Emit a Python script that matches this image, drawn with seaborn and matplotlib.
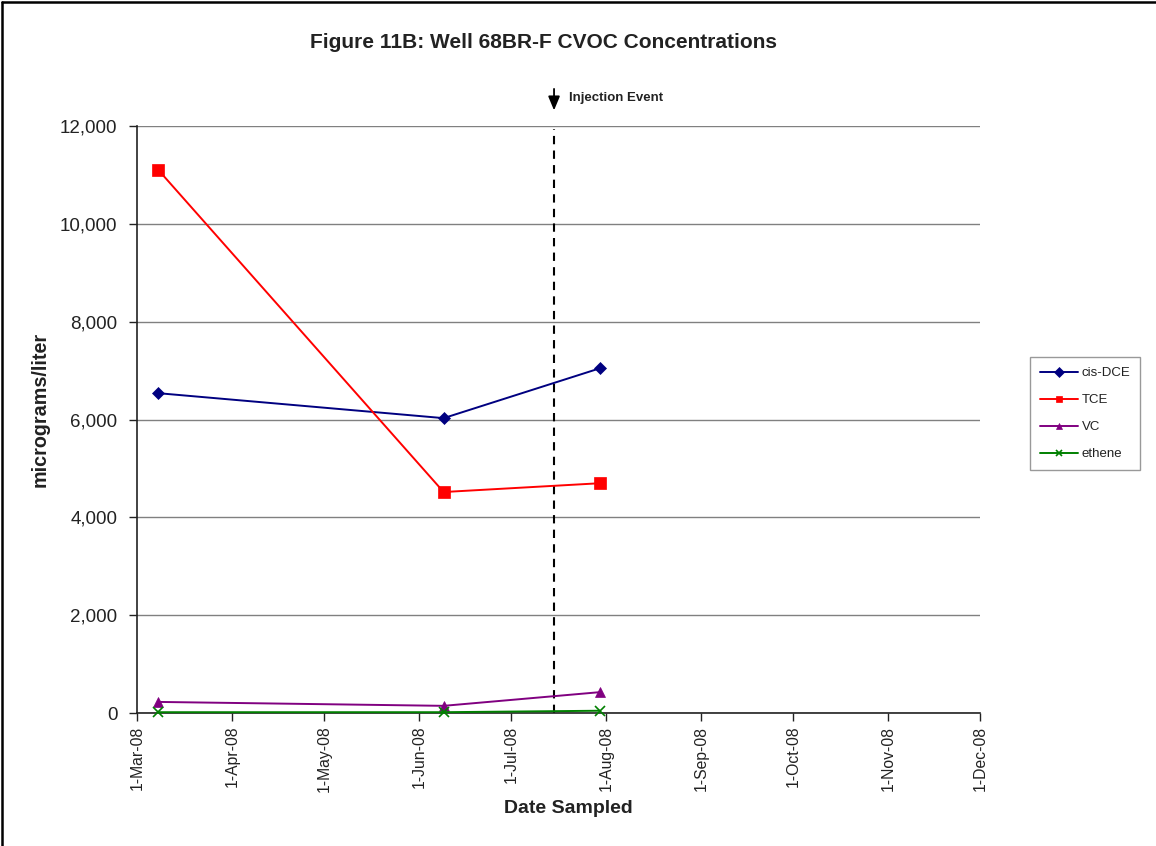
import matplotlib
matplotlib.use("Agg")
import matplotlib.pyplot as plt
import matplotlib.dates as mdates
import matplotlib.ticker as mticker
import matplotlib.transforms as mtrans
from matplotlib.lines import Line2D
import seaborn as sns
import pandas as pd

# ---- data ----
sample_dates = ["2008-03-08", "2008-06-09", "2008-07-30"]
cis_dce = [6540, 6030, 7050]
tce = [11100, 4520, 4700]
vc = [230, 150, 430]
ethene = [20, 20, 50]
injection_date = "2008-07-15"
tick_dates = ["2008-03-01", "2008-04-01", "2008-05-01", "2008-06-01", "2008-07-01",
              "2008-08-01", "2008-09-01", "2008-10-01", "2008-11-01", "2008-12-01"]
series_names = ["cis-DCE", "TCE", "VC", "ethene"]

sns.set_style("white")
plt.rcParams["font.family"] = ["Liberation Sans", "DejaVu Sans"]

fig = plt.figure(figsize=(11.56, 8.46), dpi=100)
ax = fig.add_axes([0.1185, 0.157, 0.7295, 0.694])

# partial figure border (top and left)
fig.add_artist(Line2D([0.0015, 0.0015], [0, 0.998], transform=fig.transFigure, color="black", lw=1.8))
fig.add_artist(Line2D([0.0015, 1.0], [0.998, 0.998], transform=fig.transFigure, color="black", lw=1.8))

dates = pd.to_datetime(sample_dates)
series = [cis_dce, tce, vc, ethene]
colors = ["#000080", "#FF0000", "#800080", "#008000"]
markers = ["D", "s", "^", "x"]
msizes = [6, 8, 7, 7]

for name, vals, c, m, ms in zip(series_names, series, colors, markers, msizes):
    sns.lineplot(x=dates, y=vals, ax=ax, color=c, marker=m, markersize=ms,
                 markeredgecolor=c, markeredgewidth=1.2 if m == "x" else 0.5,
                 linewidth=1.4, label=name, clip_on=False, zorder=3)

inj = pd.to_datetime(injection_date)
inj_num = mdates.date2num(inj)
ax.axvline(inj, ymin=0, ymax=0.995, color="black", linestyle=(0, (4, 3)), linewidth=1.5, zorder=2)

trans = mtrans.blended_transform_factory(ax.transData, ax.transAxes)
ax.annotate("", xy=(inj_num, 1.022), xytext=(inj_num, 1.068), xycoords=trans, textcoords=trans,
            arrowprops=dict(arrowstyle="-|>,head_length=0.6,head_width=0.25", color="black",
                            lw=1.3, mutation_scale=14),
            annotation_clip=False)
ax.text(inj_num + 5, 1.048, "Injection Event", transform=trans,
        fontsize=9.5, fontweight="bold", ha="left", va="center", color="#222222")

ax.set_xlim(pd.Timestamp(tick_dates[0]), pd.Timestamp(tick_dates[-1]))
ax.set_ylim(0, 12000)
ax.set_xticks(pd.to_datetime(tick_dates))
ax.xaxis.set_major_formatter(mdates.DateFormatter("1-%b-%y"))
ax.yaxis.set_major_locator(mticker.MultipleLocator(2000))
ax.yaxis.set_major_formatter(mticker.FuncFormatter(lambda v, p: f"{int(v):,}"))

ax.grid(axis="y", color="#808080", linewidth=1)
ax.grid(axis="x", visible=False)
for s in ["top", "right"]:
    ax.spines[s].set_visible(False)
for s in ["left", "bottom"]:
    ax.spines[s].set_color("#222222")
    ax.spines[s].set_linewidth(1.2)

ax.tick_params(axis="y", direction="out", length=6, width=1, color="#222222",
               labelsize=13.5, labelcolor="#222222", left=True, pad=8)
ax.tick_params(axis="x", direction="out", length=6, width=1, color="#222222",
               labelsize=11.3, labelcolor="#222222", bottom=True, rotation=90, pad=3)

ax.set_xlabel("Date Sampled", fontsize=14, fontweight="bold", color="#222222")
ax.xaxis.set_label_coords(0.511, -0.163)
ax.xaxis.label.set_va("center")
ax.set_ylabel("micrograms/liter", fontsize=14.2, fontweight="bold", color="#222222")
ax.yaxis.label.set_va("center")
ax.yaxis.set_label_coords(-0.1151, 0.517)

fig.text(544 / 1156, 1 - 43 / 846, "Figure 11B: Well 68BR-F CVOC Concentrations", fontsize=15,
         fontweight="bold", color="#222222", ha="center", va="center")

leg = ax.legend(loc="upper left", bbox_to_anchor=(1030 / 1156, 1 - 357 / 846),
                bbox_transform=fig.transFigure, borderaxespad=0,
                frameon=True, fancybox=False, edgecolor="#808080", fontsize=9.5,
                handlelength=2.9, labelspacing=1.12, borderpad=0.75, handletextpad=0.25)
leg.get_frame().set_linewidth(1)
for t in leg.get_texts():
    t.set_color("#222222")
for h in leg.legend_handles:
    h.set_markersize(5)

fig.savefig("out.png", dpi=100)
